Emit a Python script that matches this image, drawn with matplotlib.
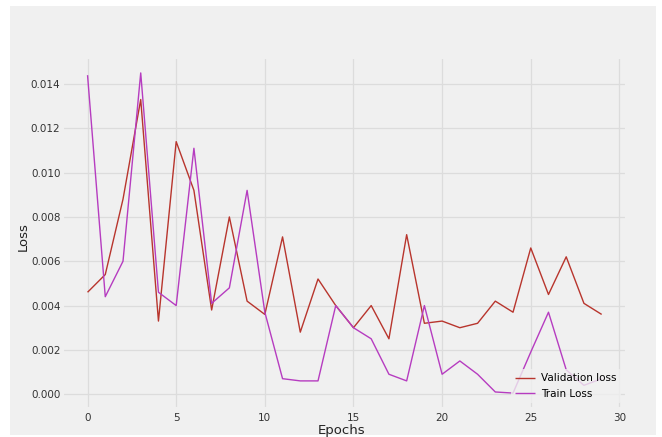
import matplotlib
matplotlib.use('Agg')
import matplotlib.pyplot as plt
from matplotlib.patches import Rectangle

plt.style.use('fivethirtyeight')

# Loss values per epoch
epochs = list(range(30))
val_loss = [0.0046, 0.0054, 0.0088, 0.0133, 0.0033, 0.0114, 0.0092, 0.0038, 0.0080, 0.0042,
            0.0036, 0.0071, 0.0028, 0.0052, 0.0040, 0.0030, 0.0040, 0.0025, 0.0072, 0.0032,
            0.0033, 0.0030, 0.0032, 0.0042, 0.0037, 0.0066, 0.0045, 0.0062, 0.0041, 0.0036]
train_loss = [0.0144, 0.0044, 0.0060, 0.0145, 0.0046, 0.0040, 0.0111, 0.0041, 0.0048, 0.0092,
              0.0037, 0.0007, 0.0006, 0.0006, 0.0040, 0.0030, 0.0025, 0.0009, 0.0006, 0.0040,
              0.0009, 0.0015, 0.0009, 0.0001, 0.00005, 0.0019, 0.0037, 0.0011, 0.0004, 0.0007]

fig = plt.figure(figsize=(6.62, 4.37), dpi=100)
fig.patch.set_facecolor('white')
# grey panel of the screenshot, with thin white border
fig.add_artist(Rectangle((10/662, 2/437), 646/662, 429/437, transform=fig.transFigure,
                         facecolor='#f0f0f0', edgecolor='none', zorder=-10))

ax = fig.add_axes([0.0934, 0.064, 0.8543, 0.8056])
ax.set_facecolor('#f0f0f0')
ax.plot(epochs, val_loss, color='#b8352d', linewidth=1.0, label='Validation loss')
ax.plot(epochs, train_loss, color='#b63cc0', linewidth=1.0, label='Train Loss')

ax.set_xlim(-1.45, 30.45)
ax.set_ylim(-0.00067, 0.01522)
ax.set_xticks([0, 5, 10, 15, 20, 25, 30])
ax.set_yticks([0.0, 0.002, 0.004, 0.006, 0.008, 0.010, 0.012, 0.014])
ax.tick_params(axis='both', labelsize=7.5, colors='#333333', length=0)
ax.tick_params(axis='x', pad=3)
ax.tick_params(axis='y', pad=1)
ax.grid(True, color='#dcdcdc', linewidth=0.9)
ax.set_xlabel('Epochs', fontsize=9.5, color='#222222')
ax.set_ylabel('Loss', fontsize=9.5, color='#222222')
ax.xaxis.set_label_coords(0.495, -0.042)
ax.yaxis.set_label_coords(-0.056, 0.49)

leg = ax.legend(loc='lower right', fontsize=7.5, frameon=True, handlelength=1.9,
                borderaxespad=0.6, handletextpad=0.6)
leg.get_frame().set_facecolor('#f0f0f0')
leg.get_frame().set_edgecolor('none')
leg.get_frame().set_alpha(0.8)

plt.savefig('out.png', dpi=100, facecolor=fig.get_facecolor())
